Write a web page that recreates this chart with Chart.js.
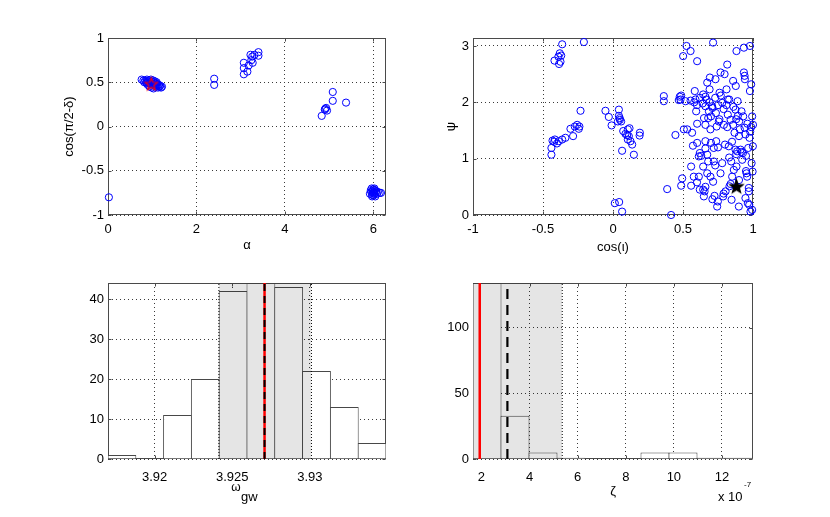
<!DOCTYPE html>
<html>
<head>
<meta charset="utf-8">
<script src="https://cdn.jsdelivr.net/npm/chart.js@4.4.1/dist/chart.umd.min.js"></script>
<style>
  body { margin: 0; background: #fff; }
  #fig { position: relative; width: 830px; height: 517px; background: #fff; }
  .panel { position: absolute; }
</style>
</head>
<body>
<div id="fig">
  <div class="panel" style="left:0;top:0"><canvas id="cSky" width="415" height="258"></canvas></div>
  <div class="panel" style="left:415px;top:0"><canvas id="cOrient" width="415" height="258"></canvas></div>
  <div class="panel" style="left:0;top:258px"><canvas id="cOmega" width="415" height="259"></canvas></div>
  <div class="panel" style="left:415px;top:258px"><canvas id="cZeta" width="415" height="259"></canvas></div>
</div>
<script>
// Panel 1: sky position (alpha vs cos(pi/2 - delta))
const alphaTicks = [0, 2, 4, 6]
const cosDeltaTicks = [-1, -0.5, 0, 0.5, 1]
const skyPoints = [
  [0.76,0.53],[0.80,0.52],[0.82,0.50],[0.84,0.52],[0.86,0.50],[0.87,0.49],[0.88,0.53],[0.90,0.51],
  [0.90,0.47],[0.92,0.49],[0.93,0.52],[0.94,0.45],[0.95,0.50],[0.96,0.48],[0.97,0.53],[0.98,0.51],
  [0.99,0.44],[1.00,0.49],[1.01,0.47],[1.02,0.52],[1.03,0.50],[1.03,0.43],[1.04,0.48],[1.05,0.46],
  [1.06,0.51],[1.07,0.49],[1.08,0.47],[1.09,0.45],[1.10,0.50],[1.11,0.48],[1.12,0.46],[1.13,0.44],
  [1.15,0.47],[1.16,0.45],[1.18,0.46],[1.20,0.44],[1.22,0.45],
  [0.02,-0.80],
  [2.40,0.54],[2.40,0.47],
  [3.07,0.72],[3.07,0.66],[3.07,0.59],[3.15,0.62],[3.18,0.69],[3.24,0.75],[3.26,0.79],[3.31,0.81],
  [3.27,0.72],[3.40,0.84],[3.40,0.80],[3.22,0.81],
  [4.83,0.12],[4.90,0.19],[4.91,0.20],[4.93,0.21],[4.95,0.18],[5.08,0.29],[5.08,0.39],[5.38,0.27],
  [5.92,-0.76],[5.94,-0.72],[5.95,-0.74],[5.96,-0.70],[5.97,-0.77],[5.97,-0.79],[5.98,-0.73],[5.99,-0.75],
  [6.00,-0.71],[6.00,-0.78],[6.01,-0.74],[6.02,-0.76],[6.02,-0.70],[6.03,-0.72],[6.04,-0.79],[6.05,-0.75],
  [6.06,-0.73],[6.08,-0.76],[6.10,-0.74],[6.14,-0.75],[6.17,-0.75]
]
const skyTrue = [[0.98, 0.475]]

// Panel 2: orientation (cos(iota) vs psi)
const cosIotaTicks = [-1, -0.5, 0, 0.5, 1]
const psiTicks = [0, 1, 2, 3]
const orientPoints = [
  [-0.363,3.03],[-0.380,2.87],[-0.370,2.83],[-0.390,2.81],[-0.375,2.72],[-0.385,2.68],[-0.418,2.74],
  [-0.208,3.07],[-0.232,1.85],
  [-0.440,1.07],[-0.440,1.19],[-0.432,1.32],[-0.415,1.34],[-0.400,1.27],[-0.387,1.31],[-0.363,1.34],
  [-0.340,1.37],[-0.304,1.53],[-0.285,1.40],[-0.273,1.57],[-0.256,1.60],[-0.240,1.57],[-0.244,1.53],[-0.420,1.30],
  [-0.054,1.85],[-0.030,1.74],[-0.010,1.59],[0.042,1.87],[0.042,1.76],[0.049,1.69],[0.035,1.66],[0.058,1.66],
  [0.048,1.72],[0.065,1.14],[0.013,0.21],[0.044,0.23],[0.065,0.06],[0.073,1.49],[0.089,1.44],[0.106,1.52],
  [0.118,1.54],[0.113,1.40],[0.106,1.34],[0.125,1.31],[0.137,1.25],[0.149,1.07],[0.192,1.46],[0.190,1.41],[0.101,1.42],
  [0.363,2.11],[0.363,2.02],[0.387,0.46],[0.415,0.00],[0.446,1.42],[0.477,2.10],[0.482,2.05],[0.487,2.12],
  [0.470,2.04],[0.501,2.82],[0.525,3.00],[0.554,2.91],[0.601,2.73],[0.494,0.65],[0.487,0.52],[0.506,1.52],
  [0.530,1.52],[0.518,2.02],[0.554,2.03],[0.558,0.86],[0.558,0.52],[0.565,1.46],[0.571,1.23],[0.577,0.68],
  [0.584,2.20],[0.589,2.05],[0.594,1.84],[0.601,1.62],[0.601,1.28],[0.613,0.68],[0.613,1.04],[0.620,0.45],
  [0.630,1.05],[0.644,2.14],[0.644,0.86],[0.644,0.45],[0.649,0.33],[0.654,0.42],[0.660,1.60],[0.660,1.31],
  [0.660,1.93],[0.668,2.05],[0.673,2.35],[0.673,1.07],[0.673,0.74],[0.680,1.72],[0.685,1.84],[0.690,2.23],
  [0.692,2.44],[0.696,1.52],[0.696,0.68],[0.708,1.93],[0.715,3.06],[0.715,0.59],[0.720,1.19],[0.720,0.95],
  [0.725,0.34],[0.732,2.41],[0.735,1.81],[0.737,1.31],[0.740,1.57],[0.744,0.15],[0.749,0.24],[0.756,1.66],
  [0.761,2.17],[0.768,2.53],[0.768,0.74],[0.780,1.99],[0.787,0.33],[0.792,1.60],[0.797,2.50],[0.804,0.42],
  [0.811,2.23],[0.816,2.67],[0.816,1.56],[0.820,2.05],[0.827,1.22],[0.832,0.51],[0.840,1.69],[0.844,0.95],
  [0.847,0.27],[0.851,0.68],[0.858,2.38],[0.858,1.60],[0.863,0.80],[0.868,1.46],[0.875,1.87],[0.875,1.16],
  [0.877,2.29],[0.882,2.91],[0.882,0.86],[0.887,1.13],[0.892,1.76],[0.899,0.15],[0.901,1.66],[0.906,1.52],
  [0.911,1.16],[0.918,1.84],[0.923,0.98],[0.928,1.10],[0.935,2.97],[0.935,2.53],[0.940,2.47],[0.942,2.41],
  [0.946,1.43],[0.954,0.74],[0.958,0.68],[0.963,0.21],[0.966,1.19],[0.970,0.48],[0.970,0.42],[0.975,1.37],
  [0.978,2.20],[0.978,3.00],[0.982,0.06],[0.987,2.32],[0.987,1.56],[0.994,1.75],[0.997,0.77],[0.999,1.22],
  [1.000,1.60],[0.994,0.09],[0.973,0.18],[0.946,0.30],
  [0.58,2.00],[0.60,1.95],[0.62,2.08],[0.64,1.98],[0.66,2.10],[0.69,2.00],[0.71,1.90],[0.73,2.08],
  [0.75,1.95],[0.77,2.12],[0.79,1.88],[0.81,1.95],[0.83,2.05],[0.86,1.92],[0.89,2.02],[0.65,1.72],
  [0.70,1.75],[0.76,1.70],[0.82,1.78],[0.88,1.70],[0.93,1.75],[0.96,1.62],[0.98,1.48],[0.94,1.55],
  [0.90,1.40],[0.85,1.30],[0.80,1.25],[0.75,1.20],[0.70,1.28],[0.66,1.18],[0.62,1.10],[0.68,0.95],
  [0.73,0.88],[0.78,0.92],[0.83,1.02],[0.88,1.08],[0.92,1.12],[0.95,1.05],[0.60,0.58],[0.66,0.50],
  [0.71,0.28],[0.79,0.38],[0.84,0.55],[0.90,0.62],[0.95,0.78],[0.99,0.92]
]
const orientTrue = [[0.882, 0.50]]

// Panel 3: omega_gw histogram
const omegaTicks = [3.92, 3.925, 3.93]
const omegaCountTicks = [0, 10, 20, 30, 40]
const omegaBins = [3.917895, 3.919685, 3.921475, 3.923265, 3.925055, 3.926845, 3.928635, 3.930425, 3.932215, 3.934005]
const omegaCounts = [1, 0, 11, 20, 42, 44, 43, 22, 13, 4]
const omegaBand = [3.92414, 3.9301]
const omegaTrue = 3.92708
const omegaMedian = 3.92708

// Panel 4: zeta histogram (x 10^-7)
const zetaTicks = [2, 4, 6, 8, 10, 12]
const zetaCountTicks = [0, 50, 100]
const zetaBins = [2.232, 3.396, 4.56, 5.724, 6.888, 8.052, 9.216, 10.38, 11.544, 12.708]
const zetaCounts = [134, 33, 5, 1, 0, 0, 5, 5, 1, 1]
const zetaBand = [1.0, 5.36]
const zetaTrue = 1.93
const zetaMedian = 3.08

const FONT = { family: "'Liberation Sans', Arial, Helvetica, sans-serif", size: 13 }

//Estrella como marcador
function makeStar(r, fill, stroke) {
    const c = document.createElement('canvas')
    const s = Math.ceil(r * 2 + 3)
    c.width = s
    c.height = s
    const g = c.getContext('2d')
    g.beginPath()
    for (let i = 0; i < 10; i++) {
        const rad = i % 2 === 0 ? r : r * 0.42
        const a = -Math.PI / 2 + i * Math.PI / 5
        g.lineTo(s / 2 + rad * Math.cos(a), s / 2 + rad * Math.sin(a))
    }
    g.closePath()
    if (fill) { g.fillStyle = fill; g.fill() }
    if (stroke) { g.strokeStyle = stroke; g.lineWidth = 1.2; g.stroke() }
    return c
}

function axis(cfg) {
    return {
        type: 'linear',
        min: cfg.min,
        max: cfg.max,
        offset: false,
        grid: { color: '#3a3a3a', lineWidth: 1, drawTicks: false, offset: false },
        border: { display: false, dash: [1, 3] },
        afterBuildTicks: s => { s.ticks = cfg.ticks.map(v => ({ value: v })) },
        afterFit: s => { if (cfg.horizontal) s.height = cfg.size; else s.width = cfg.size },
        ticks: {
            autoSkip: false, maxRotation: 0, color: '#000', font: FONT,
            padding: cfg.pad !== undefined ? cfg.pad : (cfg.horizontal ? 7 : 4),
            callback: v => String(v)
        },
        title: cfg.title
            ? { display: true, text: cfg.title, color: '#000', font: FONT, padding: cfg.titlePad }
            : { display: false }
    }
}

// caja alrededor del area + marcas hacia dentro
const framePlugin = {
    id: 'frame',
    beforeDatasetsDraw(chart) {
        const { ctx, chartArea: a, scales } = chart
        const L = Math.round(a.left) + 0.5, R = Math.round(a.right) - 0.5
        const T = Math.round(a.top) + 0.5, B = Math.round(a.bottom) - 0.5
        ctx.save()
        ctx.strokeStyle = '#4a4a4a'
        ctx.lineWidth = 1
        ctx.setLineDash([])
        ctx.strokeRect(L, T, R - L, B - T)
        ctx.beginPath()
        scales.x.ticks.forEach(t => {
            const px = Math.round(scales.x.getPixelForValue(t.value)) + 0.5
            ctx.moveTo(px, B); ctx.lineTo(px, B - 3)
            ctx.moveTo(px, T); ctx.lineTo(px, T + 3)
        })
        scales.y.ticks.forEach(t => {
            const py = Math.round(scales.y.getPixelForValue(t.value)) + 0.5
            ctx.moveTo(L, py); ctx.lineTo(L + 3, py)
            ctx.moveTo(R, py); ctx.lineTo(R - 3, py)
        })
        ctx.stroke()
        ctx.restore()
    }
}

// textos sueltos (etiquetas con subindice / exponente)
const textPlugin = {
    id: 'extraText',
    afterDraw(chart, args, opts) {
        const ctx = chart.ctx
        ;(opts.items || []).forEach(it => {
            ctx.save()
            ctx.font = `${it.size || 13}px ${FONT.family}`
            ctx.fillStyle = '#000'
            ctx.textAlign = it.align || 'left'
            ctx.textBaseline = 'middle'
            ctx.fillText(it.text, it.x, it.y)
            ctx.restore()
        })
    }
}

const common = {
    responsive: false,
    animation: false,
    events: [],
    plugins: { legend: { display: false }, tooltip: { enabled: false } }
}

function toXY(pairs) {
    return pairs.map(p => ({ x: p[0], y: p[1] }))
}

function vline(x, yMax, color, width, dash, order) {
    return {
        type: 'line',
        data: [{ x: x, y: 0 }, { x: x, y: yMax }],
        borderColor: color, borderWidth: width, borderDash: dash,
        pointRadius: 0, fill: false, order: order
    }
}

function band(lo, hi, yMax) {
    return {
        type: 'line',
        data: [{ x: lo, y: yMax }, { x: hi, y: yMax }],
        borderColor: 'rgba(0,0,0,0)', borderWidth: 0,
        backgroundColor: 'rgba(0,0,0,0.1)',
        pointRadius: 0, fill: 'origin', order: 2
    }
}

// barras un poco solapadas para que el borde compartido quede de 1px
function histBars(bins, counts) {
    return {
        type: 'bar',
        data: bins.map((b, i) => ({ x: b, y: counts[i] })),
        backgroundColor: '#ffffff',
        borderColor: '#484848',
        borderWidth: { top: 1, left: 1, right: 1, bottom: 0 },
        borderSkipped: false,
        barPercentage: 1.036,
        categoryPercentage: 1,
        inflateAmount: 0,
        order: 3
    }
}

// Panel 1
new Chart(document.getElementById('cSky'), {
    type: 'scatter',
    data: {
        datasets: [
            {
                data: toXY(skyTrue), pointStyle: makeStar(6.5, null, '#ff0000'),
                pointRadius: 6, clip: false, order: 0
            },
            {
                data: toXY(skyPoints), pointStyle: 'circle', pointRadius: 3.6,
                borderColor: '#0000ff', borderWidth: 1, backgroundColor: 'rgba(0,0,0,0)',
                clip: false, order: 1
            }
        ]
    },
    options: {
        ...common,
        layout: { padding: { left: 0, top: 38, right: 29, bottom: 0 } },
        scales: {
            x: axis({ min: 0, max: 6.2832, ticks: alphaTicks, horizontal: true, size: 43, title: 'α', titlePad: { top: 0, bottom: 5 } }),
            y: axis({ min: -1, max: 1, ticks: cosDeltaTicks, size: 108, title: 'cos(π/2-δ)', titlePad: { top: 62, bottom: 0 } })
        }
    },
    plugins: [framePlugin]
})

// Panel 2
new Chart(document.getElementById('cOrient'), {
    type: 'scatter',
    data: {
        datasets: [
            {
                data: toXY(orientTrue), pointStyle: makeStar(7, '#000000', '#000000'),
                pointRadius: 6, clip: false, order: 0
            },
            {
                data: toXY(orientPoints), pointStyle: 'circle', pointRadius: 3.6,
                borderColor: '#0000ff', borderWidth: 1, backgroundColor: 'rgba(0,0,0,0)',
                clip: false, order: 1
            }
        ]
    },
    options: {
        ...common,
        layout: { padding: { left: 0, top: 38, right: 77, bottom: 0 } },
        scales: {
            x: axis({ min: -1, max: 1, ticks: cosIotaTicks, horizontal: true, size: 43, title: 'cos(ι)', titlePad: { top: 0, bottom: 3 } }),
            y: axis({ min: 0, max: 3.1416, ticks: psiTicks, size: 58, title: 'ψ', titlePad: { top: 29, bottom: 0 } })
        }
    },
    plugins: [framePlugin]
})

// Panel 3
const omegaMax = 44
new Chart(document.getElementById('cOmega'), {
    type: 'bar',
    data: {
        datasets: [
            histBars(omegaBins, omegaCounts),
            band(omegaBand[0], omegaBand[1], omegaMax),
            vline(omegaBand[0], omegaMax, '#000', 1, [1, 2], 1),
            vline(omegaBand[1], omegaMax, '#000', 1, [1, 2], 1),
            vline(omegaTrue, omegaMax, '#ff0000', 2.5, [], 1),
            vline(omegaMedian, omegaMax, '#000000', 2, [7, 5], 0)
        ]
    },
    options: {
        ...common,
        layout: { padding: { left: 0, top: 25, right: 29, bottom: 0 } },
        scales: {
            x: axis({ min: 3.9170, max: 3.9349, ticks: omegaTicks, horizontal: true, size: 58, pad: 11 }),
            y: axis({ min: 0, max: omegaMax, ticks: omegaCountTicks, size: 108 })
        },
        plugins: {
            ...common.plugins,
            extraText: {
                items: [
                    { text: 'ω', x: 236, y: 230, size: 12, align: 'center' },
                    { text: 'gw', x: 241, y: 239, size: 13 }
                ]
            }
        }
    },
    plugins: [framePlugin, textPlugin]
})

// Panel 4
const zetaMax = 134
new Chart(document.getElementById('cZeta'), {
    type: 'bar',
    data: {
        datasets: [
            histBars(zetaBins, zetaCounts),
            band(zetaBand[0], zetaBand[1], zetaMax),
            vline(zetaBand[1], zetaMax, '#000', 1, [1, 2], 1),
            vline(zetaTrue, zetaMax, '#ff0000', 2.5, [], 1),
            vline(zetaMedian, zetaMax, '#000000', 2.2, [10, 6], 0)
        ]
    },
    options: {
        ...common,
        layout: { padding: { left: 0, top: 25, right: 77, bottom: 0 } },
        scales: {
            x: axis({ min: 1.65, max: 13.29, ticks: zetaTicks, horizontal: true, size: 58, pad: 11, title: 'ζ', titlePad: { top: 0, bottom: 18 } }),
            y: axis({ min: 0, max: zetaMax, ticks: zetaCountTicks, size: 58 })
        },
        plugins: {
            ...common.plugins,
            extraText: {
                items: [
                    { text: 'x 10', x: 303, y: 239, size: 13 },
                    { text: '-7', x: 329, y: 227, size: 8 }
                ]
            }
        }
    },
    plugins: [framePlugin, textPlugin]
})
</script>
</body>
</html>
